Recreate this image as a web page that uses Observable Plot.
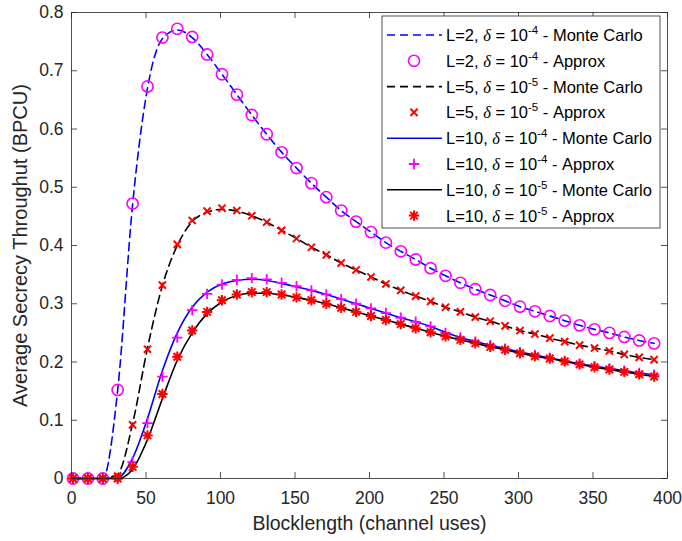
<!DOCTYPE html>
<html><head><meta charset="utf-8">
<script src="https://cdn.jsdelivr.net/npm/d3@7"></script>
<script src="https://cdn.jsdelivr.net/npm/@observablehq/plot@0.6"></script>
<style>body{margin:0;background:#fff}#chart{position:relative;width:682px;height:541px}</style>
</head><body><div id="chart"></div>
<script>
// ---------- data ----------
const blocklength = [1,11,21,31,41,51,61,71,81,91,101,111,121,131,141,151,161,171,181,191,201,211,221,231,241,251,261,271,281,291,301,311,321,331,341,351,361,371,381,391];

const L2_d4_mc = [0,0,0,0.152,0.470,0.670,0.755,0.770,0.757,0.728,0.694,0.659,0.624,0.591,0.560,0.533,0.507,0.483,0.460,0.441,0.423,0.405,0.390,0.376,0.361,0.348,0.336,0.325,0.315,0.305,0.295,0.287,0.279,0.271,0.263,0.256,0.250,0.243,0.237,0.232];
const L2_d4_apx = [0,0,0,0.152,0.472,0.673,0.757,0.772,0.758,0.728,0.694,0.659,0.624,0.591,0.560,0.533,0.507,0.483,0.460,0.441,0.423,0.405,0.390,0.376,0.361,0.348,0.336,0.325,0.315,0.305,0.295,0.287,0.279,0.271,0.263,0.256,0.250,0.243,0.237,0.232];

const L5_d5_mc = [0,0,0,0.008,0.094,0.224,0.331,0.400,0.441,0.457,0.462,0.459,0.451,0.440,0.426,0.412,0.397,0.384,0.370,0.358,0.346,0.334,0.323,0.313,0.304,0.294,0.286,0.277,0.270,0.262,0.254,0.248,0.241,0.235,0.229,0.224,0.219,0.213,0.208,0.204];
const L5_d5_apx = [0,0,0,0.004,0.092,0.222,0.332,0.402,0.443,0.459,0.464,0.460,0.451,0.440,0.426,0.412,0.397,0.384,0.370,0.358,0.346,0.334,0.323,0.313,0.304,0.294,0.286,0.277,0.270,0.262,0.254,0.248,0.241,0.235,0.229,0.224,0.219,0.213,0.208,0.204];

const L10_d4_mc = [0,0,0,0.001,0.035,0.103,0.185,0.250,0.294,0.320,0.334,0.340,0.342,0.340,0.335,0.329,0.323,0.316,0.308,0.300,0.292,0.284,0.276,0.269,0.261,0.251,0.242,0.235,0.229,0.223,0.217,0.212,0.207,0.202,0.197,0.193,0.189,0.185,0.181,0.178];
const L10_d4_apx = [0,0,0,0,0.028,0.095,0.175,0.242,0.289,0.317,0.333,0.341,0.344,0.342,0.336,0.330,0.323,0.316,0.308,0.300,0.292,0.284,0.276,0.269,0.261,0.250,0.242,0.235,0.229,0.223,0.217,0.212,0.207,0.202,0.197,0.193,0.189,0.185,0.181,0.178];

const L10_d5_mc = [0,0,0,0,0.016,0.067,0.137,0.203,0.250,0.283,0.303,0.314,0.318,0.318,0.315,0.311,0.306,0.300,0.293,0.286,0.279,0.272,0.265,0.258,0.251,0.244,0.238,0.232,0.226,0.221,0.215,0.210,0.206,0.201,0.196,0.191,0.187,0.183,0.179,0.175];
const L10_d5_apx = [0,0,0,0,0.020,0.074,0.145,0.209,0.254,0.286,0.306,0.316,0.320,0.320,0.316,0.311,0.306,0.300,0.293,0.286,0.279,0.272,0.265,0.258,0.251,0.244,0.238,0.232,0.226,0.221,0.215,0.210,0.206,0.201,0.196,0.191,0.187,0.183,0.179,0.175];

const xTicks = [0,50,100,150,200,250,300,350,400];
const yTicks = [0,0.1,0.2,0.3,0.4,0.5,0.6,0.7,0.8];
const yTickLabels = ["0","0.1","0.2","0.3","0.4","0.5","0.6","0.7","0.8"];
const xLabel = "Blocklength (channel uses)";
const yLabel = "Average Secrecy Throughut (BPCU)";
const legendL = ["L=2", "L=2", "L=5", "L=5", "L=10", "L=10", "L=10", "L=10"];
const legendExp = ["-4", "-4", "-5", "-5", "-4", "-4", "-5", "-5"];
const legendKind = ["Monte Carlo", "Approx", "Monte Carlo", "Approx", "Monte Carlo", "Approx", "Monte Carlo", "Approx"];

// ---------- symbols ----------
const plusSym = {draw(ctx, size){const r=Math.sqrt(size/Math.PI);ctx.moveTo(-r,0);ctx.lineTo(r,0);ctx.moveTo(0,-r);ctx.lineTo(0,r);}};
const timesSym = {draw(ctx, size){const a=Math.sqrt(size/Math.PI)*0.72;ctx.moveTo(-a,-a);ctx.lineTo(a,a);ctx.moveTo(-a,a);ctx.lineTo(a,-a);}};
const starSym = {draw(ctx, size){const r=Math.sqrt(size/Math.PI), a=r*0.72;ctx.moveTo(-r,0);ctx.lineTo(r,0);ctx.moveTo(0,-r);ctx.lineTo(0,r);ctx.moveTo(-a,-a);ctx.lineTo(a,a);ctx.moveTo(-a,a);ctx.lineTo(a,-a);}};
const circSym = d3.symbolCircle;

const series = [
  {ys: L2_d4_mc,  type: "line", stroke: "#0000ff", dash: "8,5", width: 1.6},
  {ys: L2_d4_apx, type: "dot", stroke: "#ff00ff", symbol: circSym, plotSymbol: "circle", r: 5.6, width: 1.6},
  {ys: L5_d5_mc,  type: "line", stroke: "#000000", dash: "8,5", width: 1.6},
  {ys: L5_d5_apx, type: "dot", stroke: "#ff0000", symbol: timesSym, r: 5, width: 2},
  {ys: L10_d4_mc, type: "line", stroke: "#0000ff", dash: null, width: 1.6},
  {ys: L10_d4_apx, type: "dot", stroke: "#ff00ff", symbol: plusSym, r: 5.2, width: 1.8},
  {ys: L10_d5_mc, type: "line", stroke: "#000000", dash: null, width: 1.6},
  {ys: L10_d5_apx, type: "dot", stroke: "#ff0000", symbol: starSym, r: 5.2, width: 2}
];

const W = 682, H = 541, mL = 71, mR = 15, mT = 12, mB = 63;
const iW = W - mL - mR, iH = H - mT - mB;
const tickLen = 6;
const axisColor = "#262626";
const FONT = "'Liberation Sans', Arial, sans-serif";

const marks = [];
for (const s of series) {
  const rows = blocklength.map((x, i) => ({x, y: s.ys[i]}));
  if (s.type === "line") {
    marks.push(Plot.line(rows, {x: "x", y: "y", stroke: s.stroke, strokeWidth: s.width, strokeDasharray: s.dash || undefined, curve: "monotone-x"}));
  } else {
    marks.push(Plot.dot(rows, {x: "x", y: "y", stroke: s.stroke, strokeWidth: s.width, fill: "none", r: s.r, symbol: s.plotSymbol || s.symbol}));
  }
}

const plot = Plot.plot({
  width: W, height: H,
  marginLeft: mL, marginRight: mR, marginTop: mT, marginBottom: mB,
  style: {fontFamily: FONT, fontSize: "17.5px", color: axisColor, background: "#fff"},
  x: {domain: [0, 400]},
  y: {domain: [0, 0.8]},
  marks: [
    ...marks,
    Plot.tickX(xTicks, {x: d => d, insetTop: iH - tickLen, stroke: axisColor, strokeWidth: 0.8}),
    Plot.tickX(xTicks, {x: d => d, insetBottom: iH - tickLen, stroke: axisColor, strokeWidth: 0.8}),
    Plot.tickY(yTicks, {y: d => d, insetRight: iW - tickLen, stroke: axisColor, strokeWidth: 0.8}),
    Plot.tickY(yTicks, {y: d => d, insetLeft: iW - tickLen, stroke: axisColor, strokeWidth: 0.8}),
    Plot.frame({stroke: axisColor, strokeWidth: 0.8}),
    Plot.axisX({ticks: xTicks, tickSize: 0, tickPadding: 13, label: null, tickFormat: d => String(d), fill: axisColor, fontSize: 17.5}),
    Plot.axisY({ticks: yTicks, tickSize: 0, tickPadding: 8, label: null, tickFormat: d => yTickLabels[yTicks.indexOf(d)], fill: axisColor, fontSize: 17.5}),
    Plot.text([xLabel], {text: d => d, frameAnchor: "bottom", lineAnchor: "middle", dy: 45, fill: axisColor, fontSize: 19.5, textAnchor: "middle"}),
    Plot.text([yLabel], {text: d => d, frameAnchor: "left", lineAnchor: "middle", dx: -51, rotate: -90, fill: axisColor, fontSize: 20, textAnchor: "middle", letterSpacing: "0.6px"})
  ]
});

// ---------- legend ----------
const svg = d3.select(plot);
const lg = svg.append("g").attr("font-family", FONT).attr("font-size", 16.5).attr("text-anchor", "start");
const bx = 382, by = 16, bw = 278, bh = 212;
lg.append("rect").attr("x", bx).attr("y", by).attr("width", bw).attr("height", bh)
  .attr("fill", "#fff").attr("stroke", axisColor).attr("stroke-width", 0.8);
series.forEach((s, i) => {
  const cy = 35 + i * 25.8;
  if (s.type === "line") {
    lg.append("line").attr("x1", 387).attr("x2", 442).attr("y1", cy).attr("y2", cy)
      .attr("stroke", s.stroke).attr("stroke-width", s.width).attr("stroke-dasharray", s.dash);
  } else {
    lg.append("path").attr("transform", `translate(414,${cy})`)
      .attr("d", d3.symbol(s.symbol, s.r * s.r * Math.PI)())
      .attr("fill", "none").attr("stroke", s.stroke).attr("stroke-width", s.width);
  }
  const t = lg.append("text").attr("x", 446).attr("y", cy).attr("dy", "0.36em").attr("fill", "#000").attr("text-anchor", "start");
  t.append("tspan").text(legendL[i] + ", ");
  t.append("tspan").attr("font-family", "'Liberation Serif', serif").attr("font-style", "italic").text("δ");
  t.append("tspan").text(" = 10");
  t.append("tspan").attr("dy", -7).attr("font-size", 11.5).text(legendExp[i]);
  t.append("tspan").attr("dy", 7).text(" - " + legendKind[i]);
});

document.getElementById("chart").appendChild(plot);
</script>
</body></html>
